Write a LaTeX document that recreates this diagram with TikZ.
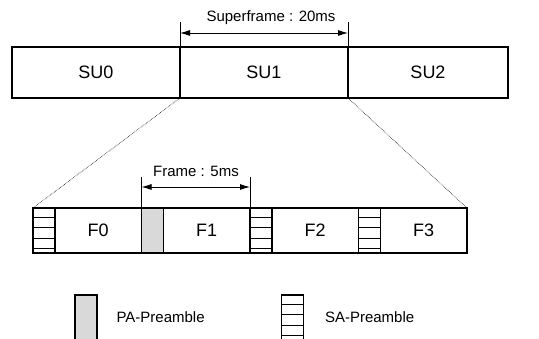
\documentclass[tikz,border=0pt]{standalone}
\usepackage{fontspec}
\setmainfont{Liberation Sans}
\usetikzlibrary{positioning,calc,arrows.meta}

\tikzset{
	subox/.style={draw, line width=1.4pt, inner sep=0pt, outer sep=0pt, minimum height=51pt, font=\fontsize{18}{21}\selectfont},
	framebox/.style={draw, line width=1.4pt, inner sep=0pt, outer sep=0pt, minimum height=45pt, minimum width=86.5pt, font=\fontsize{18}{21}\selectfont},
	pabox/.style={draw, line width=1.4pt, fill=gray!30, inner sep=0pt, outer sep=0pt, minimum height=45pt, minimum width=22pt},
	sabox/.style={pabox, fill=none,
		path picture={
			\foreach \k in {0.22,0.44,0.67,0.89}
				\draw[line width=1pt] ($(path picture bounding box.north west)!\k!(path picture bounding box.south west)$)
					-- ($(path picture bounding box.north east)!\k!(path picture bounding box.south east)$);
		}},
	dimline/.style={line width=0.7pt},
	dimarrow/.style={{Latex[length=10pt,width=6pt]}-{Latex[length=10pt,width=6pt]}, line width=0.9pt},
	zoomline/.style={densely dotted, line width=0.6pt}
}

\begin{document}
\begin{tikzpicture}[x=1pt, y=1pt, every node/.style={font=\fontsize{15}{18}\selectfont}]
		\useasboundingbox (0,0) rectangle (539,339);

		% Superframe
		\node[subox, minimum width=168pt] (su0) at (96,266.5) {SU0};
		\node[subox, minimum width=168pt, right=0pt of su0] (su1) {SU1};
		\node[subox, minimum width=160pt, right=0pt of su1] (su2) {SU2};

		% Superframe length
		\coordinate (sfl) at ([yshift=25pt]su1.north west);
		\coordinate (sfr) at ([yshift=25pt]su1.north east);
		\draw[dimline] (su1.north west) -- (sfl);
		\draw[dimline] (su1.north east) -- (sfr);
		\draw[dimarrow] ([yshift=14pt]su1.north west) -- ([yshift=14pt]su1.north east);
		\node (sflabel) at (271,321) {Superframe : 20ms};

		% Frames with their preambles
		\foreach \i in {0,2,3} {
			\node[sabox] (p\i) at ({44+108.5*\i},108.5) {};
		}
		\node[pabox] (p1) at (152.5,108.5) {};
		\foreach \i in {0,...,3} {
			\node[framebox, right=0pt of p\i] (f\i) {F\i};
		}

		% Frame length
		\coordinate (frl) at ([yshift=31pt]p1.north west);
		\coordinate (frr) at ([yshift=31pt]f1.north east);
		\draw[dimline] (p1.north west) -- (frl);
		\draw[dimline] (f1.north east) -- (frr);
		\draw[dimarrow] ([yshift=21pt]p1.north west) -- ([yshift=21pt]f1.north east);
		\node (frlabel) at (196,168) {Frame : 5ms};

		% Zoom lines
		\draw[zoomline] (su1.south west) -- (p0.north west);
		\draw[zoomline] (su1.south east) -- (f3.north east);

		% Legend
		\node[pabox] (pakey) at (86,21.5) {};
		\node[right=16pt of pakey] (palabel) {PA-Preamble};
		\node[sabox] (sakey) at (292.5,21.5) {};
		\node[right=18pt of sakey] (salabel) {SA-Preamble};
	\end{tikzpicture}
\end{document}
